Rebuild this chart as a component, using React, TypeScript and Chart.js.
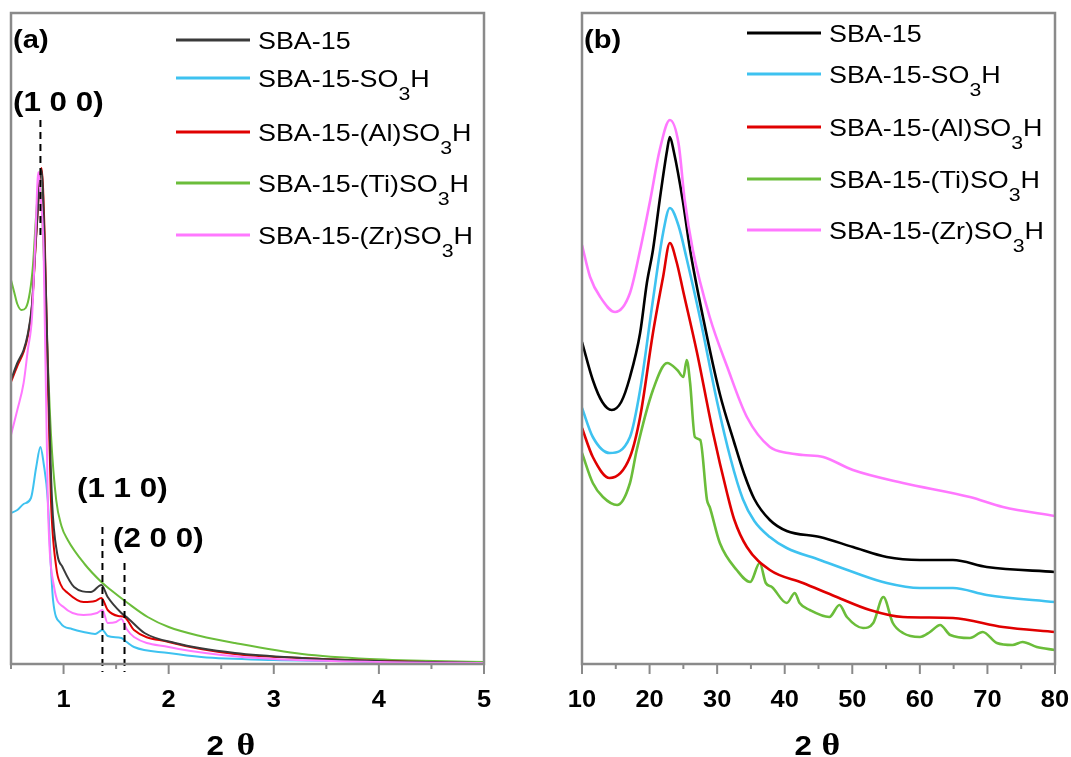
import React, { useEffect, useRef } from "react";
import { Chart, registerables } from "chart.js";

Chart.register(...registerables);

type Pt = [number, number];

// ---------- shared ----------
const seriesLabels = [
  "SBA-15",
  "SBA-15-SO₃H",
  "SBA-15-(Al)SO₃H",
  "SBA-15-(Ti)SO₃H",
  "SBA-15-(Zr)SO₃H",
];
const colorsA = ["#3a3a3a", "#3ec2f0", "#e00000", "#6bbd3a", "#ff78ff"];
const colorsB = ["#000000", "#3ec2f0", "#e00000", "#6bbd3a", "#ff78ff"];
const axisTitleParts = ["2", "θ"];

// ---------- panel (a): low-angle XRD (2θ, intensity a.u.) ----------
const aMajorTicks = [1, 2, 3, 4, 5];
const aSBA15: Pt[] = [
  [0.5, 284], [0.56, 301], [0.62, 314], [0.66, 330], [0.7, 360], [0.74, 430], [0.79, 494],
  [0.82, 420], [0.85, 300], [0.89, 164], [0.94, 110], [0.99, 97], [1.1, 77], [1.26, 72],
  [1.36, 79], [1.42, 67], [1.55, 51], [1.61, 46], [1.77, 31], [2.06, 21], [2.63, 11],
  [3.27, 6], [4.0, 3], [5.0, 1],
];
const aSO3H: Pt[] = [
  [0.5, 151], [0.56, 154], [0.62, 160], [0.69, 166], [0.74, 197], [0.78, 217], [0.81, 201],
  [0.85, 164], [0.88, 97], [0.9, 64], [0.97, 41], [1.08, 35], [1.19, 32],
  [1.3, 30], [1.37, 34], [1.42, 28], [1.55, 26], [1.6, 22], [1.67, 17], [2.0, 11],
  [2.31, 7], [3.0, 4], [3.59, 3], [4.3, 1.5], [5.0, 1],
];
const aAl: Pt[] = [
  [0.5, 282], [0.56, 298], [0.62, 312], [0.66, 328], [0.7, 358], [0.74, 428], [0.79, 496],
  [0.82, 430], [0.85, 290], [0.88, 164], [0.93, 97], [0.97, 80], [1.04, 71], [1.19, 62],
  [1.3, 63], [1.36, 66], [1.42, 54], [1.52, 48], [1.58, 47], [1.67, 34], [2.0, 22],
  [2.63, 10], [3.27, 6], [4.0, 3], [5.0, 1],
];
const aTi: Pt[] = [
  [0.5, 384], [0.53, 372], [0.56, 360], [0.6, 354], [0.64, 356], [0.68, 372], [0.71, 400],
  [0.74, 450], [0.77, 482], [0.8, 440], [0.84, 330], [0.88, 230], [0.93, 164], [0.98, 138],
  [1.04, 124], [1.2, 100], [1.36, 82], [1.45, 74], [1.61, 61], [1.8, 47], [2.0, 37],
  [2.3, 28], [2.63, 21], [3.27, 10], [3.91, 5], [5.0, 2],
];
const aZr: Pt[] = [
  [0.5, 229], [0.56, 254], [0.62, 281], [0.66, 314], [0.7, 347], [0.73, 420], [0.76, 492],
  [0.78, 470], [0.81, 414], [0.85, 164], [0.91, 77], [1.0, 57], [1.19, 49], [1.32, 51],
  [1.37, 54], [1.42, 41], [1.5, 42], [1.55, 45], [1.6, 35], [1.67, 27], [2.0, 17],
  [2.5, 9], [3.0, 5], [4.0, 2], [5.0, 1],
];
// reflections: (hkl) labels, 2θ position, dashed line from/to (intensity units)
const aPeakNames = ["(1 0 0)", "(1 1 0)", "(2 0 0)"];
const aPeakPos = [0.78, 1.37, 1.58];
const aDashFrom = [544, 137, 101];
const aDashTo = [424, -8, -8];

// ---------- panel (b): wide-angle XRD ----------
const bMajorTicks = [10, 20, 30, 40, 50, 60, 70, 80];
const bSBA15: Pt[] = [
  [10, 322], [11.6, 284], [13.0, 262], [14.4, 254], [15.8, 262], [17.1, 287], [18.6, 331],
  [19.6, 381], [20.5, 414], [21.5, 464], [22.6, 514], [23.0, 527], [23.6, 512], [24.9, 464],
  [26.0, 414], [27.9, 347], [30.4, 270], [32.5, 222], [34.0, 190], [35.5, 165], [37.8, 144],
  [40.3, 133], [45.2, 127], [50.1, 117], [55.1, 107], [60, 104], [64.9, 104], [69.9, 97],
  [80, 92],
];
const bSO3H: Pt[] = [
  [10, 256], [11.6, 227], [14.1, 211], [17.1, 227], [18.6, 274], [20.5, 364], [22.0, 431],
  [23.0, 456], [24.3, 438], [25.5, 405], [27.5, 345], [30.0, 262], [32.0, 205], [33.8, 165],
  [35.5, 143], [37.8, 127], [40.3, 116], [45.2, 104], [50.1, 92], [55.1, 81], [60, 76],
  [64.9, 76], [69.9, 69], [80, 62],
];
const bAl: Pt[] = [
  [10, 236], [11.6, 207], [14.1, 186], [17.1, 207], [18.6, 247], [20.5, 331], [22.0, 387],
  [23.0, 421], [24.0, 402], [25.0, 372], [27.0, 312], [29.4, 231], [31.5, 170], [32.5, 145],
  [34.4, 117], [37.8, 94], [42.7, 81], [47.7, 67], [52.6, 54], [57.5, 47], [64.9, 46],
  [72.3, 37], [80, 32],
];
const bTi: Pt[] = [
  [10, 211], [11.6, 181], [13.1, 167], [15.2, 159], [17.1, 181], [18.1, 214], [20.5, 274],
  [22.6, 301], [24.1, 294], [25.0, 287], [25.5, 304], [26.0, 281], [26.7, 227], [27.5, 224],
  [28.5, 164], [28.9, 157], [30.4, 121], [32.9, 94], [34.9, 82], [36.3, 101], [37.2, 81],
  [38.1, 77], [40.3, 61], [41.5, 71], [42.2, 61], [43.7, 54], [46.6, 47], [48.1, 59],
  [49.2, 47], [51.6, 36], [53.1, 41], [54.6, 67], [56.0, 41], [57.5, 31], [60.0, 27],
  [61.5, 32], [63.0, 39], [64.5, 29], [67.4, 26], [69.3, 32], [71.4, 21], [73.7, 19],
  [75.2, 22], [77.3, 17], [80, 14],
];
const bZr: Pt[] = [
  [10, 419], [11.2, 387], [12.7, 367], [14.9, 352], [17.1, 371], [18.6, 414], [20.1, 464],
  [21.5, 514], [23.0, 544], [24.3, 520], [25.2, 464], [26.4, 414], [28.9, 347], [31.5, 297],
  [34.4, 247], [37.8, 217], [40.5, 211], [42.7, 209], [45.7, 207], [50.1, 194], [57.5, 181],
  [67.4, 167], [72.3, 157], [80, 148],
];

// ---------- drawing helpers ----------
const SX = 1.12;
const SANS = "'Liberation Sans', Arial, sans-serif";
const SERIF = "'Liberation Serif', 'Times New Roman', serif";
const FRAME = "#8a8a8a";

function sText(
  ctx: CanvasRenderingContext2D,
  text: string,
  x: number,
  y: number,
  font: string,
  center = false,
  sx = SX
) {
  ctx.save();
  ctx.font = font;
  ctx.textAlign = "left";
  ctx.textBaseline = "alphabetic";
  const w = ctx.measureText(text).width * sx;
  ctx.translate(center ? x - w / 2 : x, y);
  ctx.scale(sx, 1);
  ctx.fillStyle = "#000";
  ctx.fillText(text, 0, 0);
  ctx.restore();
  return w;
}

function makeDecor(opts: any) {
  return {
    id: "decor" + opts.tag,
    afterDatasetsDraw(chart: any) {
      const ctx = chart.ctx as CanvasRenderingContext2D;
      const xs = chart.scales.x;
      const ys = chart.scales.y;
      if (opts.peaks) {
        ctx.save();
        ctx.strokeStyle = "#000";
        ctx.lineWidth = 2;
        ctx.setLineDash([7, 5]);
        opts.peaks.pos.forEach((p: number, i: number) => {
          const px = xs.getPixelForValue(p);
          ctx.beginPath();
          ctx.moveTo(px, ys.getPixelForValue(opts.peaks.from[i]));
          ctx.lineTo(px, ys.getPixelForValue(opts.peaks.to[i]));
          ctx.stroke();
        });
        ctx.restore();
      }
    },
    afterDraw(chart: any) {
      const ctx = chart.ctx as CanvasRenderingContext2D;
      const a = chart.chartArea;
      const xs = chart.scales.x;
      // frame
      ctx.save();
      ctx.strokeStyle = FRAME;
      ctx.lineWidth = 2.5;
      ctx.strokeRect(a.left, a.top, a.right - a.left, a.bottom - a.top);
      // ticks (major and minor) and tick labels from the scale
      ctx.lineWidth = 2;
      xs.ticks.forEach((t: any) => {
        const px = xs.getPixelForValue(t.value);
        const major = opts.majors.includes(t.value);
        ctx.beginPath();
        ctx.moveTo(px, a.bottom);
        ctx.lineTo(px, a.bottom + (major ? 10 : 5));
        ctx.stroke();
      });
      ctx.restore();
      xs.ticks.forEach((t: any) => {
        if (!opts.majors.includes(t.value)) return;
        const px = xs.getPixelForValue(t.value);
        sText(ctx, String(t.value), px, 707, `bold 24px ${SANS}`, true, 1.06);
      });
      // panel tag
      sText(ctx, opts.tag, a.left + 2, 48, `bold 26px ${SANS}`);
      // hkl labels
      if (opts.hkl) {
        opts.hkl.forEach((h: any) => sText(ctx, h.text, h.x, h.y, `bold 28px ${SANS}`));
      }
      // legend
      chart.data.datasets.forEach((ds: any, i: number) => {
        const y = opts.legendRows[i];
        ctx.save();
        ctx.strokeStyle = ds.borderColor;
        ctx.lineWidth = 3;
        ctx.beginPath();
        ctx.moveTo(a.left + 165, y);
        ctx.lineTo(a.left + 239, y);
        ctx.stroke();
        ctx.restore();
        const base = y + 8.5;
        const parts = String(ds.label).split("₃");
        let x = a.left + 247;
        x += sText(ctx, parts[0], x, base, `24px ${SANS}`);
        if (parts.length > 1) {
          x += sText(ctx, "3", x, base + 13, `19px ${SANS}`);
          sText(ctx, parts[1], x, base, `24px ${SANS}`);
        }
      });
      // axis title "2 θ"
      const cx = (a.left + a.right) / 2 + opts.titleOffset;
      sText(ctx, axisTitleParts[0], cx - 24, 755, `bold 28px ${SANS}`);
      sText(ctx, axisTitleParts[1], cx + opts.thetaGap, 755, `bold 32px ${SERIF}`);
    },
  };
}

function buildConfig(opts: any): any {
  return {
    type: "line",
    data: {
      datasets: opts.series.map((s: Pt[], i: number) => ({
        label: seriesLabels[i],
        data: s.map(([x, y]) => ({ x, y })),
        borderColor: opts.colors[i],
        backgroundColor: opts.colors[i],
        borderWidth: opts.lineWidth,
        pointRadius: 0,
        fill: false,
        cubicInterpolationMode: "monotone",
        order: i === 4 ? 0 : 1,
      })),
    },
    options: {
      responsive: false,
      animation: false,
      events: [],
      layout: { padding: opts.padding },
      plugins: { legend: { display: false }, tooltip: { enabled: false }, title: { display: false } },
      scales: {
        x: {
          type: "linear",
          min: opts.min,
          max: opts.max,
          grid: { display: false },
          border: { display: false },
          ticks: {
            display: false,
            stepSize: opts.step,
            autoSkip: false,
            maxRotation: 0,
          },
          afterFit: (s: any) => {
            s.height = 93;
          },
        },
        y: { display: false, min: 0, max: 651 },
      },
    },
    plugins: [makeDecor(opts)],
  };
}

export default function App() {
  const refA = useRef<HTMLCanvasElement>(null);
  const refB = useRef<HTMLCanvasElement>(null);

  useEffect(() => {
    document.body.style.margin = "0";
    const chA = new Chart(
      refA.current!,
      buildConfig({
        tag: "(a)",
        series: [aSBA15, aSO3H, aAl, aTi, aZr],
        colors: colorsA,
        lineWidth: 2,
        min: 0.5,
        max: 5,
        step: 0.5,
        majors: aMajorTicks,
        padding: { left: 11, right: 51, top: 13, bottom: 0 },
        legendRows: [40, 78, 132, 183, 235],
        titleOffset: -17,
        thetaGap: 6,
        peaks: { pos: aPeakPos, from: aDashFrom, to: aDashTo },
        hkl: [
          { text: aPeakNames[0], x: 13, y: 111 },
          { text: aPeakNames[1], x: 77, y: 497 },
          { text: aPeakNames[2], x: 113, y: 547 },
        ],
      })
    );
    const chB = new Chart(
      refB.current!,
      buildConfig({
        tag: "(b)",
        series: [bSBA15, bSO3H, bAl, bTi, bZr],
        colors: colorsB,
        lineWidth: 2.6,
        min: 10,
        max: 80,
        step: 5,
        majors: bMajorTicks,
        padding: { left: 47, right: 16, top: 13, bottom: 0 },
        legendRows: [33, 74, 127, 179, 230],
        titleOffset: 0,
        thetaGap: 3,
      })
    );
    return () => {
      chA.destroy();
      chB.destroy();
    };
  }, []);

  return (
    <div style={{ position: "relative", width: 1071, height: 757, background: "#fff" }}>
      <canvas ref={refA} width={535} height={757} style={{ position: "absolute", left: 0, top: 0 }} />
      <canvas ref={refB} width={536} height={757} style={{ position: "absolute", left: 535, top: 0 }} />
    </div>
  );
}
